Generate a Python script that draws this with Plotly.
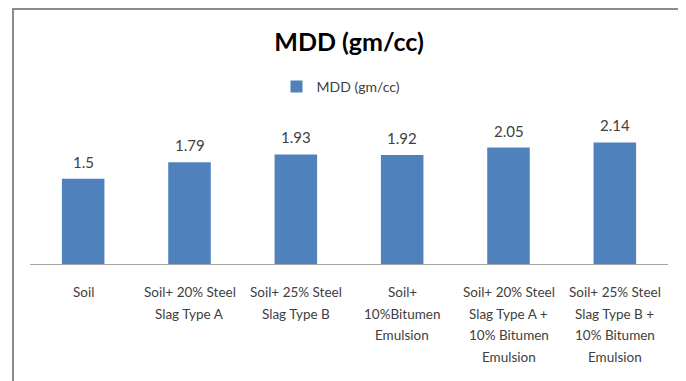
import plotly.graph_objects as go

categories = ["Soil", "Soil+ 20% Steel Slag Type A", "Soil+ 25% Steel Slag Type B",
              "Soil+ 10%Bitumen Emulsion",
              "Soil+ 20% Steel Slag Type A + 10% Bitumen Emulsion",
              "Soil+ 25% Steel Slag Type B + 10% Bitumen Emulsion"]
tick_labels = ["Soil", "Soil+ 20% Steel<br>Slag Type A", "Soil+ 25% Steel<br>Slag Type B",
               "Soil+<br>10%Bitumen<br>Emulsion",
               "Soil+ 20% Steel<br>Slag Type A +<br>10% Bitumen<br>Emulsion",
               "Soil+ 25% Steel<br>Slag Type B +<br>10% Bitumen<br>Emulsion"]
mdd = [1.5, 1.79, 1.93, 1.92, 2.05, 2.14]
series_name = "MDD (gm/cc)"
title_text = "MDD (gm/cc)"

FONT = "Lato, sans-serif"
TXT = "#404040"

# page is offset by the browser's 8px body margin; layout below compensates
fig = go.Figure()
fig.add_trace(go.Bar(x=categories, y=mdd, name=series_name,
                     marker=dict(color="#4F81BD", line=dict(width=0)),
                     showlegend=True))

# value labels
for c, v in zip(categories, mdd):
    fig.add_annotation(x=c, y=v, text=f"{v:g}", showarrow=False,
                       yanchor="bottom", yshift=6,
                       font=dict(family=FONT, size=15, color=TXT))

# category labels (Excel-like wider line spacing)
for c, lab in zip(categories, tick_labels):
    for i, line in enumerate(lab.split("<br>")):
        fig.add_annotation(x=c, y=0, text=line, showarrow=False,
                           yanchor="middle", yshift=-(28 + 21.5 * i),
                           font=dict(family=FONT, size=13.5, color=TXT))

fig.update_layout(
    width=686, height=381,
    margin=dict(l=22, r=26, t=114, b=125, autoexpand=False),
    paper_bgcolor="white", plot_bgcolor="white",
    bargap=0.6,
    title=dict(text=f"<b>{title_text}</b>", x=0.5, xref="paper", xanchor="center",
               y=1 - 34 / 381, yref="container", yanchor="middle",
               font=dict(family=FONT, size=25, color="black")),
    showlegend=True,
    legend=dict(orientation="h", x=0.4875, xanchor="center", y=(264 - 87) / 142,
                yanchor="middle", font=dict(family=FONT, size=14, color=TXT),
                bgcolor="rgba(0,0,0,0)"),
    xaxis=dict(showticklabels=False, showline=True,
               linecolor="#A6A6A6", linewidth=1, ticks="", showgrid=False,
               automargin=False),
    yaxis=dict(range=[0, 2.5], visible=False, showgrid=False, zeroline=False,
               automargin=False),
    shapes=[dict(type="rect", xref="paper", yref="paper",
                 x0=(5 - 22) / 638, x1=(674 - 22) / 638,
                 y0=-1.2, y1=(256 - 1) / 142,
                 line=dict(color="#8C8C8C", width=2), fillcolor="rgba(0,0,0,0)",
                 layer="below")],
)

fig.write_html("out.html")
